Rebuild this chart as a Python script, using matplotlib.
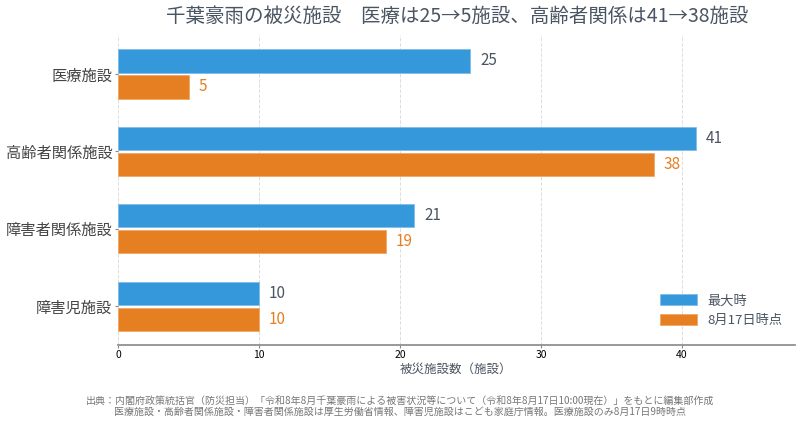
import matplotlib.pyplot as plt
import numpy as np

plt.rcParams['font.family'] = ['Noto Sans CJK JP', 'DejaVu Sans']

categories = ['医療施設', '高齢者関係施設', '障害者関係施設', '障害児施設']
peak = [25, 41, 21, 10]
aug17 = [5, 38, 19, 10]
series_names = ['最大時', '8月17日時点']
xticks = [0, 10, 20, 30, 40]

title = '千葉豪雨の被災施設　医療は25→5施設、高齢者関係は41→38施設'
xlabel = '被災施設数（施設）'
note1 = '出典：内閣府政策統括官（防災担当）「令和8年8月千葉豪雨による被害状況等について（令和8年8月17日10:00現在）」をもとに編集部作成'
note2 = '医療施設・高齢者関係施設・障害者関係施設は厚生労働省情報、障害児施設はこども家庭庁情報。医療施設のみ8月17日9時時点'

blue = '#3498db'
orange = '#e67e22'
text_col = '#4a5563'

fig = plt.figure(figsize=(8, 4.29), dpi=100)
ax = fig.add_axes([0.1475, 0.196, 0.846, 0.722])

y = np.arange(len(categories))
h = 0.3
off = 0.168
ax.barh(y - off, peak, height=h, color=blue, edgecolor='#7fbde8', linewidth=0.6,
        label=series_names[0], zorder=3)
ax.barh(y + off, aug17, height=h, color=orange, edgecolor='#f0a866', linewidth=0.6,
        label=series_names[1], zorder=3)

# value labels
for yy, v in zip(y - off, peak):
    ax.annotate(str(v), (v, yy), xytext=(10, 0), textcoords='offset pixels',
                va='center', ha='left', fontsize=11, color=text_col)
for yy, v in zip(y + off, aug17):
    ax.annotate(str(v), (v, yy), xytext=(10, 0), textcoords='offset pixels',
                va='center', ha='left', fontsize=11, color=orange)

ax.set_xlim(0, 48)
ax.set_ylim(3.5, -0.5)
ax.set_yticks(y)
ax.set_yticklabels(categories, fontsize=11, color='#444444')
ax.set_xticks(xticks)
ax.tick_params(axis='x', labelsize=7.5, length=2, color='#888888', pad=2)
ax.tick_params(axis='y', length=2, color='#888888', pad=2)
ax.grid(axis='x', linestyle='--', color='#dddddd', linewidth=0.7, zorder=0)
for s in ['top', 'right', 'left']:
    ax.spines[s].set_visible(False)
ax.spines['bottom'].set_color('#888888')
ax.spines['bottom'].set_linewidth(1.2)
ax.set_xlabel(xlabel, fontsize=9, color=text_col, labelpad=2)

ax.legend(loc='lower right', frameon=False, fontsize=9.5, handlelength=2.8, handleheight=0.9,
          labelcolor=text_col, bbox_to_anchor=(1.0, 0.02))

fig.text(0.572, 0.962, title, ha='center', va='center', fontsize=14, color=text_col)
fig.text(0.5, 0.053, note1 + '\n' + note2, ha='center', va='center', fontsize=7.2,
         color='#777777', linespacing=1.2)

fig.savefig('out.png', dpi=100)
